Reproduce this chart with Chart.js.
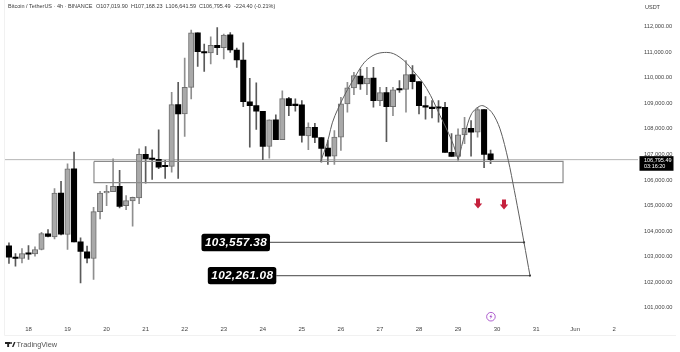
<!DOCTYPE html>
<html>
<head>
<meta charset="utf-8">
<style>
  html, body { margin: 0; padding: 0; background: #fff; }
  canvas { display: block; }
</style>
</head>
<body>
<canvas id="btcChart" width="680" height="352"></canvas>
<script src="https://cdn.jsdelivr.net/npm/chart.js@4/dist/chart.umd.min.js"></script>
<script>
  // 4h candles, first one is 17 May 12:00 (day 17.5)
  const firstDay = 17.5;
  const candleStep = 1 / 6;
  const opens = [103423, 102970, 102931, 103138, 103111, 103282, 103891, 103774, 105490, 103867, 106441, 103579, 103189, 102931, 104764, 105490, 105544, 105751, 104998, 105178, 105295, 106999, 106823, 106804, 106543, 106531, 108949, 108586, 109624, 111757, 111016, 110965, 111262, 111172, 111679, 111082, 110692, 109054, 108910, 108688, 107311, 108352, 107572, 109183, 108929, 108937, 107728, 108064, 107662, 107245, 106933, 107674, 108976, 109600, 110068, 109756, 109990, 109105, 109417, 108871, 109561, 109546, 110119, 109846, 108910, 108832, 108832, 108844, 107077, 106921, 107767, 108025, 107869, 108754, 107019.9];
  const highs = [103540, 103126, 103321, 103438, 103384, 103957, 104062, 105661, 105946, 106636, 107089, 103735, 103411, 104932, 105556, 105790, 106831, 106375, 105388, 105334, 107221, 107311, 107182, 107962, 106765, 109429, 109819, 110770, 111862, 111757, 111316, 111601, 111964, 111706, 111769, 111160, 111367, 109975, 109795, 108688, 108352, 108547, 109483, 109234, 109171, 109105, 108235, 108220, 107662, 107545, 107935, 109234, 109819, 110209, 110341, 110404, 110404, 109624, 109624, 109624, 109885, 110665, 110470, 109846, 109261, 109105, 109105, 109039, 107818, 108001, 108454, 108325, 108844, 108754, 107168.23];
  const lows = [102736, 102631, 102760, 102892, 103021, 103267, 103774, 103696, 103852, 103282, 103579, 101980, 102760, 102112, 104476, 104998, 105544, 104905, 104842, 104191, 105076, 105880, 106024, 106441, 106063, 106309, 106063, 107701, 109171, 110443, 110248, 110536, 110899, 110731, 110989, 110404, 108871, 107284, 107974, 106792, 106855, 107572, 107572, 108520, 108688, 107479, 107182, 107455, 106699, 106609, 106609, 107155, 108649, 109339, 109546, 109339, 108844, 108910, 107494, 108520, 109429, 108649, 109561, 108586, 108376, 108430, 108259, 107077, 106921, 106765, 107416, 106933, 107674, 106480, 106641.59];
  const closes = [102982, 102931, 103126, 103099, 103282, 103906, 103789, 105490, 103879, 106441, 103579, 103204, 102943, 104764, 105490, 105556, 105751, 104971, 105193, 105322, 106999, 106831, 106804, 106504, 106519, 108949, 108586, 109624, 111757, 111016, 110965, 111262, 111172, 111667, 111082, 110692, 109066, 108910, 108688, 107311, 108352, 107572, 109183, 108910, 108910, 107740, 108064, 107662, 107233, 106933, 107674, 108976, 109600, 110080, 109756, 109990, 109105, 109417, 108871, 109522, 109522, 110119, 109846, 108910, 108844, 108793, 108805, 107077, 106921, 107767, 108025, 107869, 108754, 106999, 106795.49];

  const dayTicks = [18, 19, 20, 21, 22, 23, 24, 25, 26, 27, 28, 29, 30, 31, 32, 33];
  const dayLabels = ["18", "19", "20", "21", "22", "23", "24", "25", "26", "27", "28", "29", "30", "31", "Jun", "2"];
  const priceTicks = [101000, 102000, 103000, 104000, 105000, 106000, 107000, 108000, 109000, 110000, 111000, 112000];
  const priceTicksFormat = { minimumFractionDigits: 2, maximumFractionDigits: 2 };

  // drawn overlays as [day, price]
  const firstArc = [[25.478, 106707], [25.644, 107428], [25.849, 108520], [26.405, 110146], [26.745, 110794], [27.173, 110989], [27.513, 110794], [27.846, 110275], [28.197, 109573], [28.538, 108520], [28.837, 107545], [29.006, 106792]];
  const secondArc = [[29.006, 106792], [29.178, 107818], [29.349, 108598], [29.606, 108910], [29.862, 108649], [30.074, 108001], [30.287, 106765], [30.441, 105595], [30.586, 104425], [30.689, 103557.38], [30.842, 102261.08]];
  const supportZone = [[19.677, 106726], [31.688, 106726], [31.688, 105895], [19.677, 105895], [19.677, 106726]];
  const lastPrice = 106795.49;
  const targets = [
    { label: "103,557.38", price: 103557.38, from: 24.184, to: 30.689 },
    { label: "102,261.08", price: 102261.08, from: 24.346, to: 30.842 },
  ];
  const arrows = [[29.511, 105076], [30.177, 105038]];
  const flash = [29.842, 100654];

  const candleDay = (i) => firstDay + i * candleStep;
  const isUp = closes.map((c, i) => c >= opens[i]);
  const toPoints = (arr) => arr.map((p) => ({ x: p[0], y: p[1] }));

  const overlayPlugin = {
    id: "overlay",
    afterDraw(chart) {
      const { ctx, scales } = chart;
      const x = scales.x;
      const y = scales.y;
      const smallFont = "5.5px 'Liberation Sans'";
      ctx.save();

      // pane frame, very faint
      ctx.strokeStyle = "#f1f1f1";
      ctx.lineWidth = 1;
      ctx.beginPath();
      ctx.moveTo(4.5, 0);
      ctx.lineTo(4.5, 335.5);
      ctx.lineTo(676, 335.5);
      ctx.stroke();

      // header
      ctx.fillStyle = "#3a3a3a";
      ctx.font = smallFont;
      ctx.textBaseline = "middle";
      ctx.textAlign = "left";
      ctx.fillText("Bitcoin / TetherUS · 4h · BINANCE", 8, 6.5);
      ctx.fillText("O107,019.90", 96, 6.5);
      ctx.fillText("H107,168.23", 131, 6.5);
      ctx.fillText("L106,641.59", 165.5, 6.5);
      ctx.fillText("C106,795.49", 199, 6.5);
      ctx.fillText("-224.40 (-0.21%)", 234, 6.5);
      ctx.fillText("USDT", 645, 7);

      // target callouts
      targets.forEach((t) => {
        const py = y.getPixelForValue(t.price);
        const right = x.getPixelForValue(t.from);
        ctx.fillStyle = "#000";
        ctx.beginPath();
        ctx.roundRect(right - 68.5, py - 8.7, 68.5, 17.4, 2.5);
        ctx.fill();
        ctx.fillStyle = "#fff";
        ctx.font = "italic bold 11.8px 'Liberation Sans'";
        ctx.letterSpacing = "0.3px";
        ctx.textAlign = "center";
        ctx.fillText(t.label, right - 34, py + 0.5);
        ctx.letterSpacing = "0px";
      });

      // red arrows
      ctx.fillStyle = "#c5213d";
      arrows.forEach((a) => {
        const px = x.getPixelForValue(a[0]);
        const py = y.getPixelForValue(a[1]);
        ctx.beginPath();
        ctx.moveTo(px - 2, py - 5);
        ctx.lineTo(px + 2, py - 5);
        ctx.lineTo(px + 2, py);
        ctx.lineTo(px + 4.2, py);
        ctx.lineTo(px, py + 5);
        ctx.lineTo(px - 4.2, py);
        ctx.lineTo(px - 2, py);
        ctx.closePath();
        ctx.fill();
      });

      // flash marker on the time axis
      const fx = x.getPixelForValue(flash[0]);
      const fy = y.getPixelForValue(flash[1]);
      ctx.strokeStyle = "#a64fc9";
      ctx.lineWidth = 0.9;
      ctx.beginPath();
      ctx.arc(fx, fy, 4.3, 0, Math.PI * 2);
      ctx.stroke();
      ctx.fillStyle = "#a64fc9";
      ctx.beginPath();
      ctx.moveTo(fx + 0.8, fy - 2.6);
      ctx.lineTo(fx - 1.5, fy + 0.4);
      ctx.lineTo(fx - 0.1, fy + 0.4);
      ctx.lineTo(fx - 0.8, fy + 2.6);
      ctx.lineTo(fx + 1.5, fy - 0.4);
      ctx.lineTo(fx + 0.1, fy - 0.4);
      ctx.closePath();
      ctx.fill();

      // last price tag
      const tagY = y.getPixelForValue(lastPrice);
      ctx.fillStyle = "#000";
      ctx.fillRect(639.5, tagY - 3.5, 34, 14.6);
      ctx.fillStyle = "#fff";
      ctx.font = smallFont;
      ctx.textAlign = "left";
      ctx.fillText("106,795.49", 644, tagY + 0.6);
      ctx.fillText("03:16:20", 644, tagY + 7.2);

      // TradingView mark
      ctx.fillStyle = "#222";
      ctx.fillRect(5, 342, 5, 2);
      ctx.fillRect(7.2, 342, 1.9, 5);
      ctx.beginPath();
      ctx.arc(11, 343, 1, 0, Math.PI * 2);
      ctx.fill();
      ctx.beginPath();
      ctx.moveTo(12, 347);
      ctx.lineTo(14, 342);
      ctx.lineTo(15.5, 342);
      ctx.lineTo(13.5, 347);
      ctx.closePath();
      ctx.fill();
      ctx.fillStyle = "#555";
      ctx.font = "7.4px 'Liberation Sans'";
      ctx.textAlign = "left";
      ctx.fillText("TradingView", 16.5, 344.5);
      ctx.restore();
    },
  };

  new Chart(document.getElementById("btcChart").getContext("2d"), {
    type: "bar",
    data: {
      datasets: [
        {
          type: "line",
          data: toPoints(firstArc),
          borderColor: "#5e5e5e",
          borderWidth: 1,
          pointRadius: 0,
          tension: 0.4,
          order: 1,
        },
        {
          type: "line",
          data: toPoints(secondArc),
          borderColor: "#5e5e5e",
          borderWidth: 1,
          pointRadius: 0,
          tension: 0.3,
          order: 1,
        },
        ...targets.map((t) => ({
          type: "line",
          data: [{ x: t.from, y: t.price }, { x: t.to, y: t.price }],
          borderColor: "#6a6a6a",
          borderWidth: 1.2,
          pointRadius: [0, 1.1],
          pointBackgroundColor: "#222",
          pointBorderWidth: 0,
          order: 1,
        })),
        {
          type: "line",
          data: toPoints(supportZone),
          borderColor: "#8a8a8a",
          borderWidth: 1.2,
          pointRadius: 0,
          tension: 0,
          order: 2,
        },
        {
          data: opens.map((o, i) => ({ x: candleDay(i), y: [o, closes[i]] })),
          grouped: false,
          barThickness: 5.4,
          minBarLength: 1.4,
          backgroundColor: isUp.map((u) => (u ? "#a9a9a9" : "#000000")),
          borderColor: isUp.map((u) => (u ? "#6e6e6e" : "#000000")),
          borderWidth: isUp.map((u) => (u ? 1 : 0)),
          borderSkipped: false,
          order: 3,
        },
        {
          data: highs.map((h, i) => ({ x: candleDay(i), y: [lows[i], h] })),
          grouped: false,
          barThickness: 1,
          backgroundColor: isUp.map((u) => (u ? "#8f8f8f" : "#5a5a5a")),
          borderWidth: 0,
          order: 4,
        },
        {
          type: "line",
          data: [{ x: 17.373, y: lastPrice }, { x: 33.608, y: lastPrice }],
          borderColor: "#b5b5b5",
          borderWidth: 1,
          pointRadius: 0,
          order: 5,
        },
      ],
    },
    options: {
      responsive: false,
      animation: false,
      events: [],
      layout: { autoPadding: false, padding: { left: 4, right: 0, top: 0, bottom: 0 } },
      plugins: { legend: { display: false }, tooltip: { enabled: false } },
      scales: {
        x: {
          type: "linear",
          offset: false,
          min: 17.373,
          max: 33.608,
          grid: { display: false, drawTicks: false },
          border: { display: false },
          afterFit(scale) {
            scale.height = 30;
          },
          afterBuildTicks(scale) {
            scale.ticks = dayTicks.map((v) => ({ value: v }));
          },
          ticks: {
            autoSkip: false,
            maxRotation: 0,
            padding: 4,
            color: "#444",
            font: { family: "Liberation Sans", size: 6 },
            callback: (v) => dayLabels[dayTicks.indexOf(v)],
          },
        },
        y: {
          position: "right",
          min: 100447,
          max: 112670,
          grid: { display: false, drawTicks: false },
          border: { display: false },
          afterFit(scale) {
            scale.width = 42;
          },
          afterBuildTicks(scale) {
            scale.ticks = priceTicks.map((v) => ({ value: v }));
          },
          ticks: {
            autoSkip: false,
            padding: 6,
            color: "#444",
            font: { family: "Liberation Sans", size: 5.7 },
            callback: (v) => v.toLocaleString("en-US", priceTicksFormat),
          },
        },
      },
    },
    plugins: [overlayPlugin],
  });
</script>
</body>
</html>
